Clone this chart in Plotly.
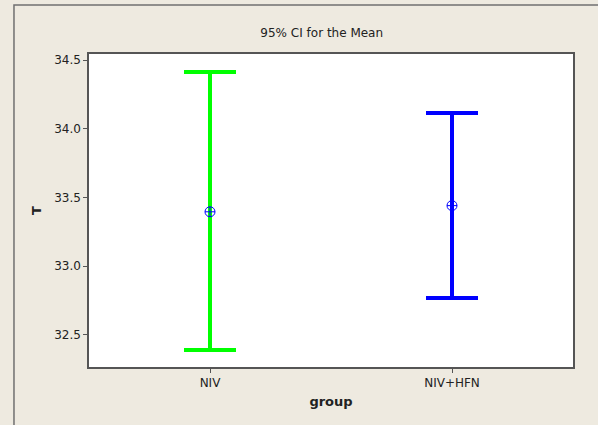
import plotly.graph_objects as go

# Group means and 95% confidence limits for T
groups = ["NIV", "NIV+HFN"]
means = [33.395, 33.44]
lower = [32.388, 32.767]
upper = [34.413, 34.114]
bar_colors = ["#00FF00", "#0000FF"]
y_ticks = [32.5, 33.0, 33.5, 34.0, 34.5]

bg = "#EEEAE0"
font_family = "Tahoma, DejaVu Sans, sans-serif"

fig = go.Figure()
for g, m, lo, hi, c in zip(groups, means, lower, upper, bar_colors):
    fig.add_trace(go.Scatter(
        x=[g], y=[m], mode="markers",
        marker=dict(symbol="circle-cross-open", size=10, color="#0000FF",
                    line=dict(width=1, color="#0000FF")),
        error_y=dict(type="data", symmetric=False,
                     array=[hi - m], arrayminus=[m - lo],
                     color=c, thickness=4, width=26),
        showlegend=False, hoverinfo="skip",
    ))

# outer frame around the whole graph region
fig.add_shape(type="rect", xref="paper", yref="paper",
              x0=-0.155, x1=1.2, y0=-0.4, y1=1.1565,
              line=dict(color="#707070", width=1.5), fillcolor="rgba(0,0,0,0)",
              layer="below")

fig.update_layout(
    width=598, height=425,
    margin=dict(l=89, r=25, t=54, b=58),
    paper_bgcolor=bg, plot_bgcolor="white",
    font=dict(family=font_family, size=12, color="#222222"),
    title=dict(text="95% CI for the Mean", x=0.538, xanchor="center",
               y=1 - 33 / 425, yanchor="middle",
               font=dict(size=12, family=font_family, color="#222222")),
)
fig.update_xaxes(
    type="category", range=[-0.5, 1.5],
    showline=True, linecolor="#555555", linewidth=1.5, mirror=True,
    ticks="outside", ticklen=4, tickcolor="#555555",
    showgrid=False, zeroline=False,
    title=dict(text="<b>group</b>", font=dict(size=13, family=font_family), standoff=8),
)
fig.update_yaxes(
    range=[32.265, 34.544], tickvals=y_ticks,
    ticktext=[f"{v:.1f}" for v in y_ticks],
    showline=True, linecolor="#555555", linewidth=1.5, mirror=True,
    ticks="outside", ticklen=4, tickcolor="#555555",
    showgrid=False, zeroline=False,
    title=dict(text="<b>T</b>", font=dict(size=13, family=font_family), standoff=10),
)

fig.write_html("out.html")
